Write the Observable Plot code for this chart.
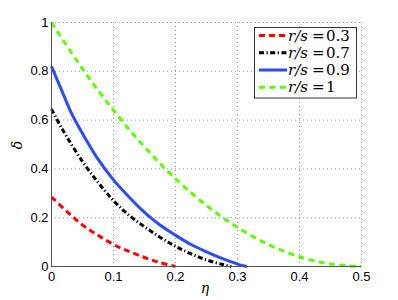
<!DOCTYPE html>
<html>
<head>
<meta charset="utf-8">
<script src="https://cdn.jsdelivr.net/npm/d3@7"></script>
<script src="https://cdn.jsdelivr.net/npm/@observablehq/plot@0.6"></script>
<style>
  html, body { margin: 0; padding: 0; background: #fff; }
  #chart { width: 398px; height: 300px; }
</style>
</head>
<body>
<div id="chart"></div>
<script>
// ---- data ----
const xTicks = [0, 0.1, 0.2, 0.3, 0.4, 0.5];
const yTicks = [0, 0.2, 0.4, 0.6, 0.8, 1];

const seriesNames = ["r/s = 0.3", "r/s = 0.7", "r/s = 0.9", "r/s = 1"];
const seriesValues = ["0.3", "0.7", "0.9", "1"];
const seriesColors = ["#ff0000", "#000000", "#2b4bff", "#5cff00"];
const seriesDash = ["6,4", "5,2.5,1.2,2.5", "none", "6,4.5"];

const eta03   = [0, 0.025, 0.05, 0.075, 0.1, 0.125, 0.15, 0.175, 0.2];
const delta03 = [0.285, 0.225, 0.17, 0.128, 0.09, 0.062, 0.037, 0.016, 0];

const eta07   = [0, 0.0125, 0.025, 0.05, 0.075, 0.1, 0.125, 0.15, 0.175, 0.2, 0.225, 0.25, 0.275, 0.29];
const delta07 = [0.645, 0.585, 0.53, 0.43, 0.345, 0.27, 0.21, 0.163, 0.12, 0.083, 0.052, 0.027, 0.009, 0];

const eta09   = [0, 0.01, 0.02, 0.03, 0.04, 0.05, 0.075, 0.1, 0.125, 0.15, 0.175, 0.2, 0.225, 0.25, 0.275, 0.3, 0.315];
const delta09 = [0.82, 0.76, 0.70, 0.64, 0.59, 0.545, 0.44, 0.355, 0.285, 0.222, 0.17, 0.128, 0.09, 0.06, 0.033, 0.01, 0];

const eta10   = [0, 0.05, 0.1, 0.15, 0.2, 0.25, 0.3, 0.35, 0.4, 0.45, 0.5];
const delta10 = [1, 0.81, 0.64, 0.49, 0.36, 0.25, 0.16, 0.09, 0.04, 0.01, 0];

const etas = [eta03, eta07, eta09, eta10];
const deltas = [delta03, delta07, delta09, delta10];

const series = etas.map((e, i) => e.map((x, j) => ({eta: x, delta: deltas[i][j]})));

const lineMarks = series.map((d, i) => Plot.line(d, {
  x: "eta", y: "delta", curve: "catmull-rom",
  stroke: seriesColors[i], strokeWidth: 3,
  strokeDasharray: seriesDash[i], strokeLinecap: "butt"
}));

const chart = Plot.plot({
  width: 398, height: 300,
  marginLeft: 51, marginRight: 37, marginTop: 22, marginBottom: 34,
  style: {fontFamily: "'Liberation Sans', Arial, sans-serif", fontSize: "13px", background: "#fff", color: "#000"},
  x: {domain: [0, 0.5]},
  y: {domain: [0, 1]},
  marks: [
    Plot.ruleX(xTicks, {stroke: "#9a9a9a", strokeDasharray: "1,3", strokeWidth: 1}),
    Plot.ruleY(yTicks, {stroke: "#9a9a9a", strokeDasharray: "1,3", strokeWidth: 1}),
    ...lineMarks,
    Plot.ruleX([0], {stroke: "#555", strokeWidth: 1}),
    Plot.ruleY([0], {stroke: "#555", strokeWidth: 1}),
    Plot.axisX(xTicks, {tickSize: 0, tickPadding: 5, tickFormat: d => String(d), label: null}),
    Plot.axisY(yTicks, {tickSize: 0, tickPadding: 3, tickFormat: d => String(d), label: null})
  ]
});

document.getElementById("chart").appendChild(chart);

// axis titles and legend drawn on the same SVG
const svg = d3.select(chart);
svg.append("text")
  .attr("x", 205).attr("y", 293)
  .attr("text-anchor", "middle")
  .style("font-family", "'DejaVu Serif', serif").style("font-style", "italic").style("font-size", "14px")
  .text("η");
svg.append("text")
  .attr("transform", "translate(22,145) rotate(-90)")
  .attr("text-anchor", "middle")
  .style("font-family", "'DejaVu Serif', serif").style("font-style", "italic").style("font-size", "14px")
  .text("δ");

const lg = svg.append("g").attr("text-anchor", "start");
lg.append("rect").attr("x", 254.5).attr("y", 27.5).attr("width", 102).attr("height", 70.5)
  .attr("fill", "#fff").attr("stroke", "#333").attr("stroke-width", 1);
const rowY = [35.5, 52.8, 70, 87.3];
seriesNames.forEach((name, i) => {
  const y = rowY[i];
  lg.append("line").attr("x1", 259).attr("x2", 287).attr("y1", y).attr("y2", y)
    .attr("stroke", seriesColors[i]).attr("stroke-width", 3)
    .attr("stroke-dasharray", seriesDash[i]);
  const st = (sel) => sel.attr("text-anchor", "start").attr("y", y + 5)
    .style("font-family", "'DejaVu Serif', serif").style("font-size", "15px").attr("fill", "#000");
  st(lg.append("text").attr("x", 288)).style("font-style", "italic").text("r/s");
  st(lg.append("text").attr("x", 312)).text("=");
  st(lg.append("text").attr("x", 326)).text(seriesValues[i]);
});
</script>
</body>
</html>
